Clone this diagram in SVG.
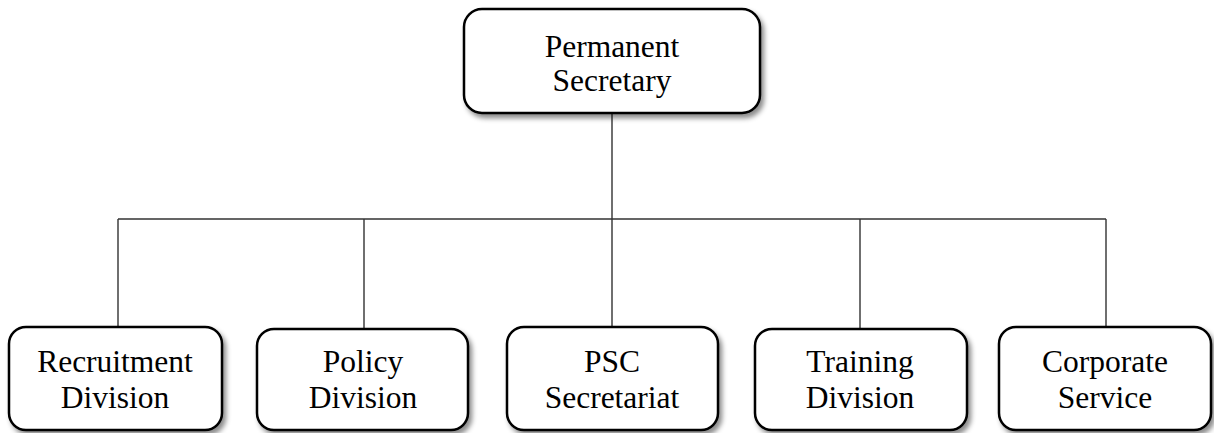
<svg xmlns="http://www.w3.org/2000/svg" width="1214" height="433" viewBox="0 0 1214 433">
<style>
.box{fill:#fff;stroke:#000;stroke-width:2.5;filter:url(#sh)}
.t{font-family:"Liberation Serif","Times New Roman",serif;font-size:31.5px;fill:#000;text-anchor:middle}
.c{stroke:#333;stroke-width:1.4;fill:none}
</style>
<defs>
<filter id="sh" x="-10%" y="-10%" width="130%" height="140%">
<feDropShadow dx="3" dy="4" stdDeviation="2.5" flood-color="#000" flood-opacity="0.45"/>
</filter>
</defs>
<rect width="1214" height="433" fill="#fff"/>
<g id="connectors">
<path class="c" d="M612 114V219M118 219H1106M118 219V327M364 219V328M612 219V327M860 219V328M1106 219V327"/>
</g>
<g id="n-ps"><rect class="box" x="464" y="9" width="296" height="104" rx="18"/><text class="t" x="612" y="57">Permanent</text><text class="t" x="612" y="91">Secretary</text></g>
<g id="n-rec"><rect class="box" x="9" y="327" width="213" height="103" rx="17"/><text class="t" x="115" y="372">Recruitment</text><text class="t" x="115" y="408">Division</text></g>
<g id="n-pol"><rect class="box" x="257" y="329" width="211" height="101" rx="17"/><text class="t" x="363" y="372">Policy</text><text class="t" x="363" y="408">Division</text></g>
<g id="n-psc"><rect class="box" x="507" y="327" width="211" height="103" rx="17"/><text class="t" x="612" y="372">PSC</text><text class="t" x="612" y="408">Secretariat</text></g>
<g id="n-trn"><rect class="box" x="755" y="329" width="212" height="101" rx="17"/><text class="t" x="860" y="372">Training</text><text class="t" x="860" y="408">Division</text></g>
<g id="n-cor"><rect class="box" x="999" y="327" width="212" height="103" rx="17"/><text class="t" x="1105" y="372">Corporate</text><text class="t" x="1105" y="408">Service</text></g>
</svg>
